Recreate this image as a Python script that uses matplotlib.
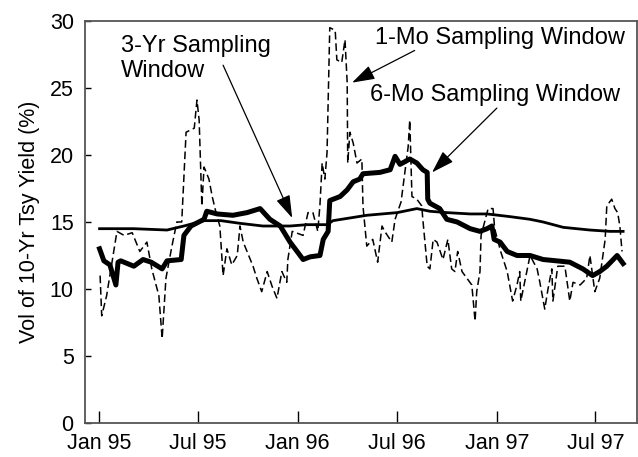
import matplotlib
matplotlib.use("Agg")
import matplotlib.pyplot as plt
import pandas as pd

# 1-month sampling window (dashed)
mo1_dates = ['1995-01-03', '1995-01-06', '1995-01-15', '1995-02-03', '1995-02-16', '1995-03-03',
             '1995-03-17', '1995-03-30', '1995-04-08', '1995-04-21', '1995-04-27', '1995-05-04',
             '1995-05-15', '1995-05-24', '1995-06-02', '1995-06-10', '1995-06-25', '1995-06-30',
             '1995-07-04', '1995-07-09', '1995-07-13', '1995-07-22', '1995-07-28', '1995-08-04',
             '1995-08-11', '1995-08-17', '1995-08-24', '1995-09-02', '1995-09-12', '1995-09-17',
             '1995-09-23', '1995-10-11', '1995-10-18', '1995-10-27', '1995-11-06', '1995-11-15',
             '1995-11-24', '1995-12-03', '1995-12-12', '1995-12-14', '1995-12-22', '1996-01-11',
             '1996-01-20', '1996-01-29', '1996-02-07', '1996-02-11', '1996-02-15', '1996-02-20',
             '1996-02-24', '1996-02-29', '1996-03-10', '1996-03-13', '1996-03-22', '1996-03-28',
             '1996-04-01', '1996-04-02', '1996-04-06', '1996-04-12', '1996-04-19', '1996-04-28',
             '1996-04-30', '1996-05-07', '1996-05-18', '1996-05-27', '1996-06-04', '1996-06-09',
             '1996-06-22', '1996-06-28', '1996-07-09', '1996-07-22', '1996-07-25', '1996-07-29',
             '1996-08-07', '1996-08-16', '1996-08-18', '1996-08-26', '1996-08-31', '1996-09-06',
             '1996-09-13', '1996-09-24', '1996-10-03', '1996-10-10', '1996-10-16', '1996-10-21',
             '1996-10-29', '1996-11-07', '1996-11-16', '1996-11-22', '1996-11-25', '1996-12-01',
             '1996-12-03', '1996-12-05', '1996-12-16', '1996-12-25', '1996-12-28', '1997-01-08',
             '1997-01-20', '1997-01-30', '1997-02-07', '1997-02-12', '1997-02-14', '1997-03-03',
             '1997-03-16', '1997-03-21', '1997-03-30', '1997-04-05', '1997-04-12', '1997-04-14',
             '1997-04-23', '1997-05-06', '1997-05-15', '1997-05-21', '1997-06-03', '1997-06-15',
             '1997-06-21', '1997-06-30', '1997-07-09', '1997-07-19', '1997-07-22', '1997-07-31',
             '1997-08-06', '1997-08-11', '1997-08-15', '1997-08-19']
mo1_vals = [11.0, 8.0, 9.5, 14.3, 14.0, 14.2,
            12.8, 13.5, 11.5, 9.5, 6.3, 10.8,
            13.2, 15.0, 15.0, 21.7, 22.0, 24.1,
            22.6, 16.2, 19.1, 18.2, 16.9, 15.7,
            14.7, 11.0, 13.0, 11.8, 12.5, 14.7,
            13.5, 11.7, 10.8, 9.8, 11.3, 10.2,
            9.3, 11.3, 10.5, 12.2, 14.3, 14.0,
            15.7, 15.7, 14.3, 16.3, 19.4, 18.2,
            20.2, 29.5, 29.3, 27.1, 26.9, 28.6,
            25.4, 19.4, 21.7, 20.9, 19.4, 19.7,
            16.2, 13.2, 13.7, 12.0, 14.7, 14.3,
            13.5, 15.2, 16.5, 20.6, 22.6, 16.9,
            16.7, 16.2, 15.2, 11.7, 11.5, 13.7,
            13.5, 12.2, 13.7, 11.5, 11.3, 12.8,
            11.3, 10.8, 10.3, 7.6, 9.8, 11.3,
            14.0, 14.3, 16.0, 16.0, 14.5, 12.8,
            11.3, 9.1, 10.3, 11.3, 9.1, 12.5,
            11.5, 10.5, 8.5, 10.0, 11.5, 9.1,
            11.7, 11.7, 9.1, 10.5, 10.3, 10.8,
            12.5, 9.8, 10.8, 13.7, 16.2, 16.7,
            16.0, 15.7, 14.7, 12.8]

# 6-month sampling window (thick)
mo6_dates = ['1995-01-02', '1995-01-10', '1995-01-21', '1995-02-01', '1995-02-05', '1995-02-10',
             '1995-03-06', '1995-03-23', '1995-04-07', '1995-04-27', '1995-05-06', '1995-06-01',
             '1995-06-06', '1995-06-19', '1995-07-13', '1995-07-18', '1995-08-06', '1995-09-04',
             '1995-09-30', '1995-10-24', '1995-11-11', '1995-11-30', '1995-12-18', '1995-12-31',
             '1996-01-11', '1996-01-24', '1996-02-11', '1996-02-17', '1996-02-26', '1996-02-29',
             '1996-03-19', '1996-04-01', '1996-04-12', '1996-04-24', '1996-04-30', '1996-05-31',
             '1996-06-19', '1996-06-28', '1996-07-07', '1996-07-25', '1996-08-07', '1996-08-18',
             '1996-08-26', '1996-08-27', '1996-08-31', '1996-09-18', '1996-10-01', '1996-10-20',
             '1996-11-13', '1996-12-01', '1996-12-14', '1996-12-23', '1996-12-27', '1997-01-07',
             '1997-01-20', '1997-02-07', '1997-03-03', '1997-03-27', '1997-04-21', '1997-05-15',
             '1997-06-08', '1997-06-26', '1997-07-09', '1997-07-22', '1997-08-10', '1997-08-21']
mo6_vals = [13.0, 12.1, 11.8, 10.3, 12.0, 12.1,
            11.7, 12.2, 12.0, 11.5, 12.1, 12.2,
            14.0, 14.7, 15.2, 15.8, 15.6, 15.5,
            15.7, 16.0, 15.2, 14.7, 13.5, 12.8,
            12.2, 12.4, 12.5, 13.7, 14.3, 16.6,
            16.9, 17.4, 18.0, 18.2, 18.6, 18.7,
            18.9, 19.9, 19.3, 19.7, 19.4, 18.9,
            18.7, 16.7, 16.4, 16.0, 15.2, 15.0,
            14.5, 14.3, 14.5, 14.7, 13.7, 13.5,
            12.8, 12.5, 12.5, 12.2, 12.1, 12.0,
            11.5, 11.0, 11.3, 11.7, 12.5, 11.9]

# 3-year sampling window (medium)
yr3_dates = ['1995-01-02', '1995-03-06', '1995-05-06', '1995-06-06', '1995-07-13', '1995-08-13',
             '1995-09-17', '1995-10-29', '1995-12-18', '1996-01-18', '1996-02-24', '1996-03-06',
             '1996-04-06', '1996-05-07', '1996-07-02', '1996-08-07', '1996-08-31', '1996-10-01',
             '1996-11-13', '1996-12-14', '1997-01-25', '1997-03-03', '1997-03-27', '1997-05-03',
             '1997-06-21', '1997-07-28', '1997-08-21']
yr3_vals = [14.5, 14.5, 14.4, 14.7, 15.1, 15.1,
            14.9, 14.7, 14.7, 14.8, 14.8, 15.1,
            15.3, 15.5, 15.7, 16.0, 15.8, 15.7,
            15.6, 15.6, 15.4, 15.2, 15.0, 14.6,
            14.4, 14.3, 14.3]

tick_dates = ['1995-01-01', '1995-07-01', '1996-01-01', '1996-07-01', '1997-01-01', '1997-07-01']
tick_labels = ['Jan 95', 'Jul 95', 'Jan 96', 'Jul 96', 'Jan 97', 'Jul 97']

plt.rcParams['font.family'] = ['Liberation Sans', 'DejaVu Sans']

fig = plt.figure(figsize=(6.38, 4.57), dpi=100)
ax = fig.add_axes([0.133, 0.0744, 0.865, 0.8797])

d = pd.to_datetime
ax.plot(d(yr3_dates), yr3_vals, color='black', lw=2.0, solid_joinstyle='round')
ax.plot(d(mo6_dates), mo6_vals, color='black', lw=3.6, solid_joinstyle='round')
ax.plot(d(mo1_dates), mo1_vals, color='black', lw=1.1, linestyle=(0, (5, 2.5)))

ax.set_xlim(d('1994-12-06'), d('1997-09-15'))
ax.set_ylim(0, 30)
ax.set_yticks([0, 5, 10, 15, 20, 25, 30])
ax.set_xticks(d(tick_dates))
ax.set_xticklabels(tick_labels)
ax.set_ylabel('Vol of 10-Yr Tsy Yield (%)', fontsize=15.5, labelpad=7)

ax.tick_params(axis='y', direction='in', length=4, width=1, labelsize=15.5, pad=8)
ax.tick_params(axis='x', direction='in', length=9, width=1, labelsize=15.5, pad=7.2)
for s in ax.spines.values():
    s.set_color('#555555')
    s.set_linewidth(1.3)

arrow = dict(arrowstyle='-|>,head_length=1.0,head_width=0.32', color='black',
             lw=0.9, mutation_scale=14, shrinkA=0, shrinkB=0)

ax.text(0.065, 0.965, '3-Yr Sampling\nWindow', transform=ax.transAxes,
        fontsize=17, va='top', ha='left', linespacing=1.2)
ax.annotate('', xy=(d('1995-12-22'), 15.3), xytext=(d('1995-08-17'), 26.7),
            arrowprops=arrow)

ax.text(0.525, 0.958, '1-Mo Sampling Window', transform=ax.transAxes,
        fontsize=17, va='center', ha='left')
ax.annotate('', xy=(d('1996-04-10'), 25.4), xytext=(d('1996-08-03'), 27.8),
            arrowprops=arrow)

ax.text(0.516, 0.817, '6-Mo Sampling Window', transform=ax.transAxes,
        fontsize=17, va='center', ha='left')
ax.annotate('', xy=(d('1996-09-04'), 18.7), xytext=(d('1997-01-01'), 23.5),
            arrowprops=arrow)

fig.savefig('out.png', dpi=100)
